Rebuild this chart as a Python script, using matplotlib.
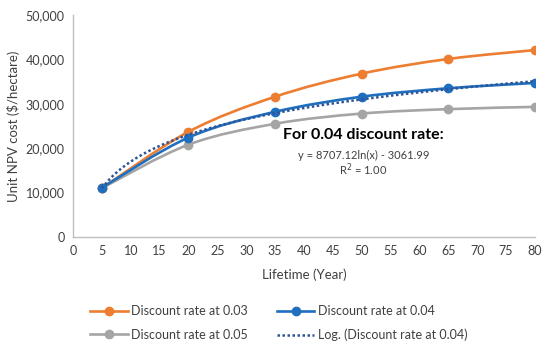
import numpy as np
import matplotlib
matplotlib.use("Agg")
import matplotlib.pyplot as plt
from matplotlib.path import Path
from matplotlib.patches import PathPatch
from matplotlib.lines import Line2D

years = [5, 20, 35, 50, 65, 80]
rate_003 = [11000, 23700, 31600, 36800, 40100, 42100]
rate_004 = [11100, 22400, 28200, 31600, 33500, 34700]
rate_005 = [11000, 20800, 25500, 27800, 28800, 29300]
log_a, log_b = 8707.12, -3061.99
labels = ["Discount rate at 0.03", "Discount rate at 0.04",
          "Discount rate at 0.05", "Log. (Discount rate at 0.04)"]
colors = ["#ED7D31", "#1F6FBF", "#A5A5A5", "#2F5597"]

plt.rcParams['font.family'] = ['Lato', 'DejaVu Sans']
fig = plt.figure(figsize=(5.5, 3.49), dpi=100)
ax = fig.add_axes([0.1327, 0.321, 0.84, 0.636])


def smooth_path(xs, ys):
    xs = np.asarray(xs, float); ys = np.asarray(ys, float)
    verts = [(xs[0], ys[0])]
    codes = [Path.MOVETO]
    n = len(xs)
    for i in range(n - 1):
        p0 = (xs[max(i - 1, 0)], ys[max(i - 1, 0)])
        p1 = (xs[i], ys[i]); p2 = (xs[i + 1], ys[i + 1])
        p3 = (xs[min(i + 2, n - 1)], ys[min(i + 2, n - 1)])
        c1 = (p1[0] + (p2[0] - p0[0]) / 6, p1[1] + (p2[1] - p0[1]) / 6)
        c2 = (p2[0] - (p3[0] - p1[0]) / 6, p2[1] - (p3[1] - p1[1]) / 6)
        verts += [c1, c2, p2]
        codes += [Path.CURVE4] * 3
    return Path(verts, codes)


for ys, c, z in [(rate_005, colors[2], 2), (rate_003, colors[0], 3), (rate_004, colors[1], 4)]:
    ax.add_patch(PathPatch(smooth_path(years, ys), facecolor='none', edgecolor=c,
                           lw=1.9, zorder=z))
    ax.plot(years, ys, 'o', color=c, ms=6, zorder=z + 0.5)

xt = np.linspace(years[0], years[-1], 200)
ax.plot(xt, log_a * np.log(xt) + log_b, linestyle=(0, (1, 1)), color=colors[3], lw=1.8, zorder=6)

ax.set_xlim(0, 80)
ax.set_ylim(0, 50000)
ax.set_xticks(range(0, 81, 5))
ax.set_yticks(range(0, 50001, 10000))
ax.yaxis.set_major_formatter(matplotlib.ticker.FuncFormatter(lambda v, p: f"{int(v):,}"))
ax.tick_params(length=0, labelsize=9, colors='#404040', pad=6)
for s in ['top', 'right']:
    ax.spines[s].set_visible(False)
for s in ['left', 'bottom']:
    ax.spines[s].set_color('#BFBFBF')
    ax.spines[s].set_linewidth(1.0)
ax.set_xlabel("Lifetime (Year)", fontsize=9.5, color='#404040', labelpad=8)
ax.set_ylabel("Unit NPV cost ($/hectare)", fontsize=9.5, color='#404040', labelpad=4)

ax.text(50.3, 22900, "For 0.04 discount rate:", fontsize=11.5, fontweight='bold', ha='center', va='center', color='black')
ax.text(50.3, 18400, "y = 8707.12ln(x) - 3061.99", fontsize=8, ha='center', va='center', color='#404040')
ax.text(50.3, 15100, "R$^2$ = 1.00", fontsize=8, ha='center', va='center', color='#404040')

h03 = Line2D([], [], color=colors[0], marker='o', lw=1.9, ms=6)
h04 = Line2D([], [], color=colors[1], marker='o', lw=1.9, ms=6)
h05 = Line2D([], [], color=colors[2], marker='o', lw=1.9, ms=6)
hlog = Line2D([], [], color=colors[3], linestyle=(0, (1, 1)), lw=1.8)
fig.legend([h03, h05, h04, hlog], [labels[0], labels[2], labels[1], labels[3]],
           loc='center', bbox_to_anchor=(0.507, 0.074), ncol=2,
           frameon=False, fontsize=9, handlelength=3.0, columnspacing=2.3,
           handletextpad=0.3, labelspacing=0.95, labelcolor='#404040')

fig.savefig("out.png", dpi=100)
